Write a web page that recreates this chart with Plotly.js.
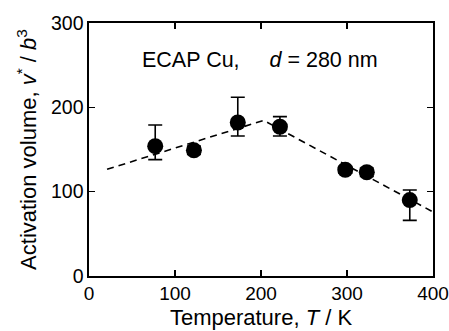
<!DOCTYPE html>
<html>
<head>
<meta charset="utf-8">
<script src="https://cdn.plot.ly/plotly-3.0.1.min.js"></script>
<style>html,body{margin:0;padding:0;background:#fff;}#chart{width:449px;height:331px;}</style>
</head>
<body>
<div id="chart"></div>
<script>
// Data
const temperature = [77, 122, 173, 222, 298, 323, 373];
const activationVolume = [154, 149, 182, 177, 126, 123, 90];
const errPlus = [25, 5, 30, 12, 4, 5, 12];
const errMinus = [16, 5, 16, 11, 4, 5, 24];
const fitT = [21, 203, 400];
const fitV = [126.5, 184.5, 76];
const xTicks = [0, 100, 200, 300, 400];
const yTicks = [0, 100, 200, 300];

const font = 'Liberation Sans, Arial, sans-serif';

const traces = [
  {
    x: fitT, y: fitV, type: 'scatter', mode: 'lines',
    line: {color: '#000', width: 1.6, dash: '7px,5px'},
    hoverinfo: 'skip', showlegend: false
  },
  {
    x: temperature, y: activationVolume, type: 'scatter', mode: 'markers',
    marker: {color: '#000', size: 16, line: {width: 0}},
    error_y: {type: 'data', symmetric: false, array: errPlus, arrayminus: errMinus,
      color: '#000', thickness: 1.6, width: 7},
    showlegend: false
  }
];

const layout = {
  width: 449, height: 331,
  margin: {l: 89, r: 16, t: 23, b: 55},
  paper_bgcolor: '#fff', plot_bgcolor: '#fff',
  font: {family: font, color: '#000', size: 20},
  xaxis: {
    range: [0, 400], tickvals: xTicks, ticktext: xTicks.map(String),
    ticks: 'inside', ticklen: 6, tickwidth: 1.2, tickcolor: '#000',
    showline: true, linecolor: '#000', linewidth: 1.6, mirror: 'ticks',
    showgrid: false, zeroline: false,
    tickfont: {family: font, size: 19},
    title: {text: 'Temperature, <i>T</i> / K', font: {family: font, size: 22}, standoff: 6}
  },
  yaxis: {
    range: [0, 300], tickvals: yTicks, ticktext: yTicks.map(String),
    ticks: 'inside', ticklen: 6, tickwidth: 1.2, tickcolor: '#000',
    showline: true, linecolor: '#000', linewidth: 1.6, mirror: 'ticks',
    showgrid: false, zeroline: false,
    tickfont: {family: font, size: 19.5},
    title: {text: 'Activation volume, <i>v</i><sup>*</sup> / <i>b</i><sup>3</sup>', font: {family: font, size: 22}, standoff: 8}
  },
  annotations: [{
    x: 199, y: 256, xref: 'x', yref: 'y', showarrow: false,
    text: 'ECAP Cu,     <i>d</i> = 280 nm',
    font: {family: font, size: 21.5, color: '#000'}
  }]
};

Plotly.newPlot('chart', traces, layout, {displayModeBar: false, staticPlot: true});
</script>
</body>
</html>
